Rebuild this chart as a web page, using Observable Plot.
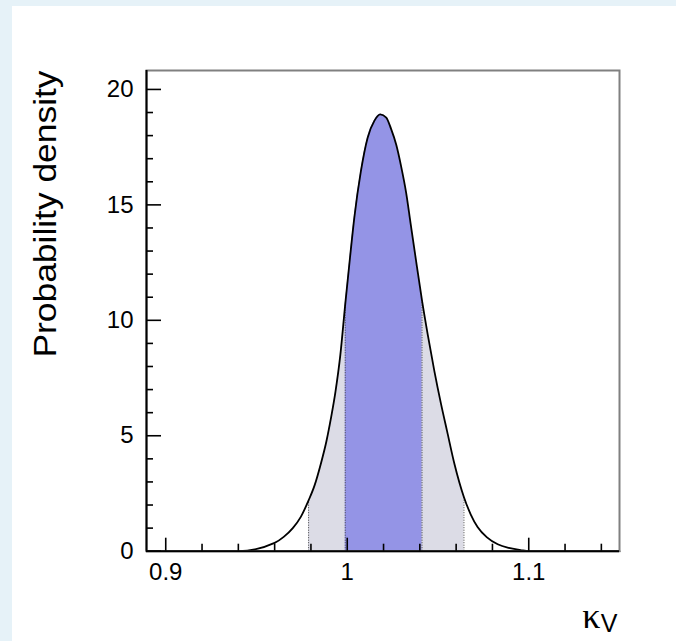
<!DOCTYPE html>
<html><head><meta charset="utf-8">
<script src="https://cdn.jsdelivr.net/npm/d3@7"></script>
<script src="https://cdn.jsdelivr.net/npm/@observablehq/plot@0.6"></script>
<style>
html,body{margin:0;padding:0;background:#fff;}
#wrap{width:676px;height:641px;box-sizing:border-box;border-left:12px solid #e6f2f8;border-top:6px solid #e6f2f8;background:#fff;overflow:hidden;}
#chart svg{display:block;background:#fff;max-width:none !important;}
</style></head><body><div id="wrap"><div id="chart"></div></div>
<script>
// curve
const kappa   = [0.8894, 0.94, 0.96, 0.965, 0.97, 0.9745, 0.9787, 0.982, 0.9855, 0.9885, 0.991, 0.9935, 0.9962, 0.9989, 1.0015, 1.0039, 1.0075, 1.0112, 1.015, 1.0182, 1.0215, 1.0241, 1.027, 1.0296, 1.0325, 1.0349, 1.0375, 1.0412, 1.0443, 1.048, 1.0516, 1.055, 1.059, 1.0643, 1.068, 1.0718, 1.077, 1.0829, 1.089, 1.0955, 1.10, 1.15];
const density = [0, 0, 0.36, 0.62, 1.0, 1.5, 2.2, 2.85, 3.8, 4.75, 5.75, 6.9, 8.5, 10.7, 12.7, 14.45, 16.45, 17.9, 18.65, 18.92, 18.78, 18.3, 17.6, 16.7, 15.5, 14.2, 12.8, 10.85, 9.4, 7.8, 6.4, 5.2, 3.8, 2.34, 1.6, 1.05, 0.6, 0.3, 0.14, 0.05, 0, 0];
const band95 = [0.9787, 1.0643];
const band68 = [0.9989, 1.0412];
const xDomain = [0.8894, 1.15];
const yDomain = [0, 20.82];
const xMajor = [0.9, 1.0, 1.1];
const xTickLabels = ["0.9", "1", "1.1"];
const xMinor = [0.92, 0.94, 0.96, 0.98, 1.02, 1.04, 1.06, 1.08, 1.12, 1.14];
const yMajor = [0, 5, 10, 15, 20];
const yMinor = [1, 2, 3, 4, 6, 7, 8, 9, 11, 12, 13, 14, 16, 17, 18, 19];
const xLabelMain = "κ";
const xLabelSub = "V";
const yLabel = "Probability density";

const data = kappa.map((x, i) => ({x, y: density[i]}));
const inBand = (b) => data.filter(d => d.x >= b[0] - 1e-9 && d.x <= b[1] + 1e-9);
const edges = data.filter(d => [...band95, ...band68].includes(d.x));
const sans = "'Liberation Sans', Arial, Helvetica, sans-serif";

const chart = Plot.plot({
  width: 664, height: 635,
  marginLeft: 134, marginTop: 64, marginRight: 57, marginBottom: 90.3,
  x: {domain: xDomain},
  y: {domain: yDomain},
  style: {fontFamily: sans, background: "white", color: "black", overflow: "visible"},
  marks: [
    Plot.areaY(inBand(band95), {x: "x", y: "y", fill: "#dcdce6", curve: "monotone-x"}),
    Plot.areaY(inBand(band68), {x: "x", y: "y", fill: "#9494e6", curve: "monotone-x"}),
    Plot.ruleX(edges, {x: "x", y1: 0, y2: "y", stroke: "#444", strokeWidth: 1, strokeDasharray: "1,1.5"}),
    Plot.line(data, {x: "x", y: "y", stroke: "black", strokeWidth: 1.8, curve: "monotone-x"}),
    Plot.frame({stroke: "#808080", strokeWidth: 2}),
    Plot.ruleY([yDomain[0]], {stroke: "black", strokeWidth: 2}),
    Plot.ruleX([xDomain[0]], {stroke: "black", strokeWidth: 2}),
    Plot.axisX(xMajor, {anchor: "bottom", tickSize: -13, fill: "none", label: null, strokeWidth: 1.6}),
    Plot.axisX(xMinor, {anchor: "bottom", tickSize: -7, fill: "none", label: null, strokeWidth: 1.6}),
    Plot.axisX(xMajor, {anchor: "bottom", tickSize: 0, tickPadding: 12, fontSize: 24, label: null,
      tickFormat: d => xTickLabels[xMajor.indexOf(d)]}),
    Plot.axisY(yMajor, {anchor: "left", tickSize: -15, fill: "none", label: null, strokeWidth: 1.6}),
    Plot.axisY(yMinor, {anchor: "left", tickSize: -7, fill: "none", label: null, strokeWidth: 1.6}),
    Plot.axisY(yMajor, {anchor: "left", tickSize: 0, tickPadding: 13, fontSize: 24, label: null}),
    Plot.text([xLabelMain], {text: d => d, frameAnchor: "bottom-right", dx: -19, dy: 76.3,
      textAnchor: "end", lineAnchor: "bottom", fontSize: 36, fontFamily: "'Liberation Serif', 'DejaVu Serif', serif"}),
    Plot.text([xLabelSub], {text: d => d, frameAnchor: "bottom-right", dx: -2, dy: 80.3,
      textAnchor: "end", lineAnchor: "bottom", fontSize: 25}),
    Plot.text([yLabel], {text: d => d, frameAnchor: "left", rotate: -90, dx: -90.3, dy: -96.85,
      textAnchor: "middle", lineAnchor: "bottom", fontSize: 31})
  ]
});
document.getElementById("chart").appendChild(chart);
d3.select(chart).selectAll("g[aria-label='x-axis tick label'], g[aria-label='y-axis tick label']")
  .attr("font-size", 24).style("font-size", "24px");
d3.select(chart).selectAll("text").filter(function() { return this.textContent === yLabel; })
  .attr("textLength", 287).attr("lengthAdjust", "spacingAndGlyphs");
</script></body></html>
